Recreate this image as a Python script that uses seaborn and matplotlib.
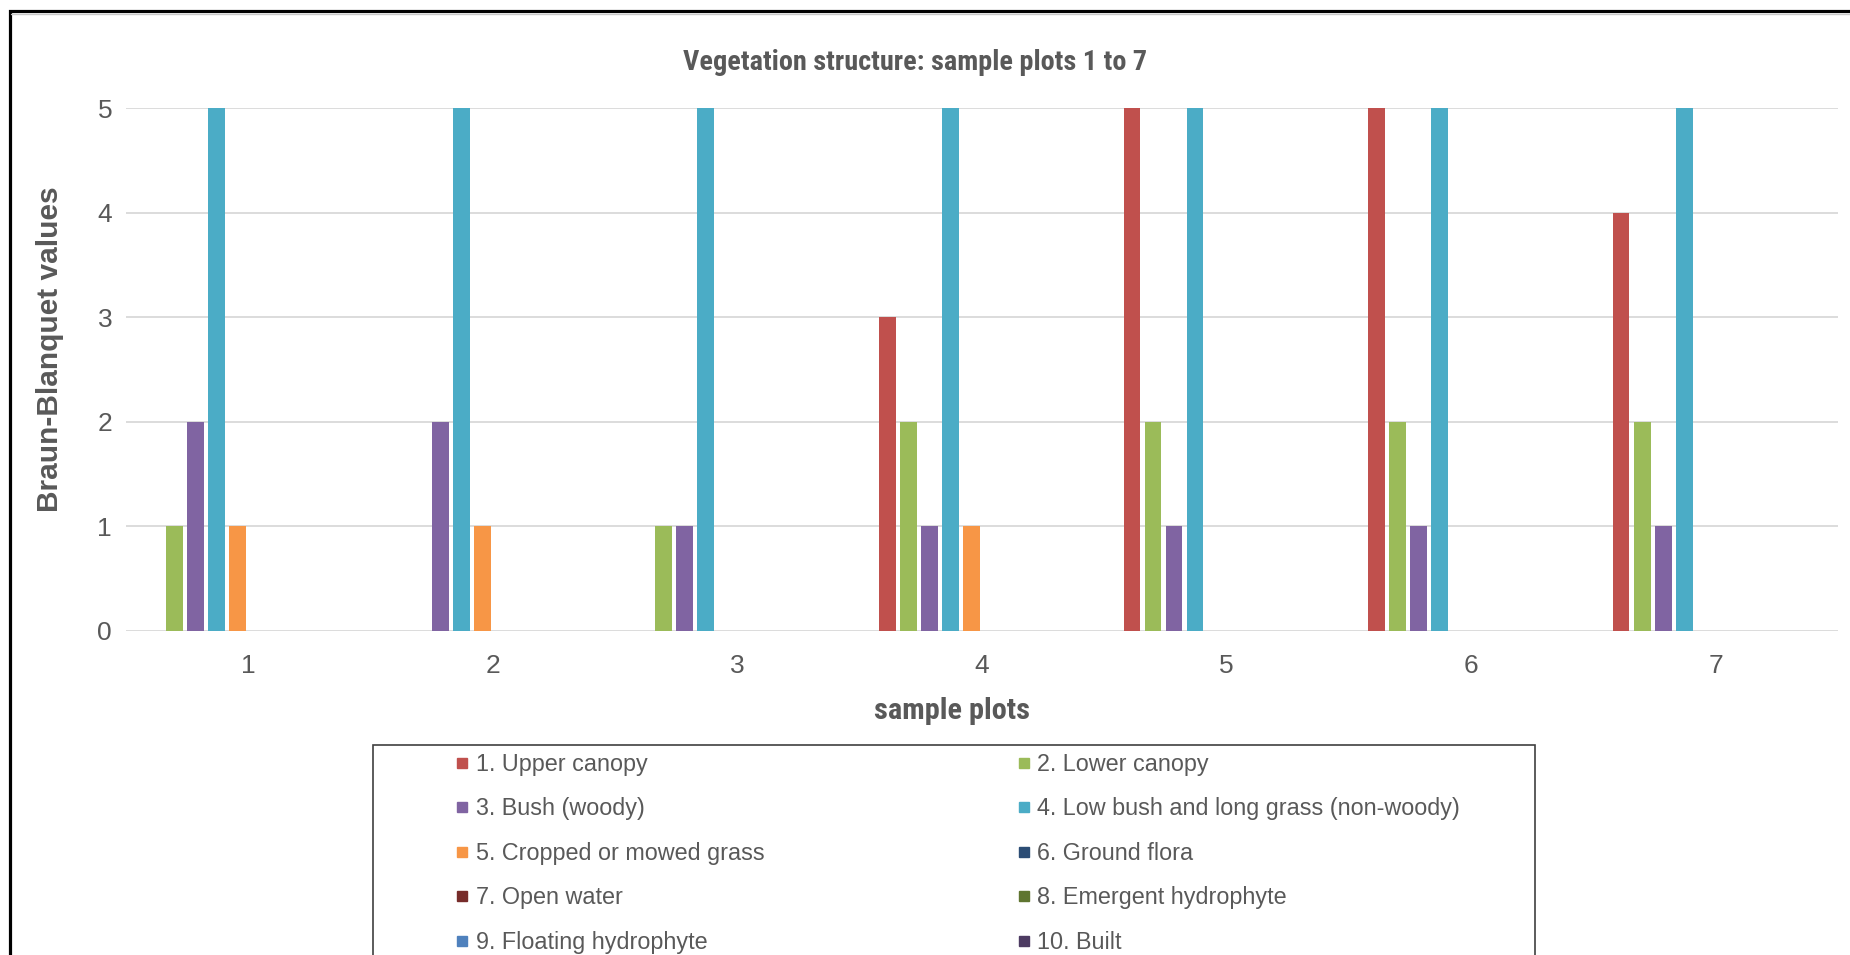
import numpy as np
import pandas as pd
import matplotlib
matplotlib.use("Agg")
import matplotlib.pyplot as plt
from matplotlib import font_manager as fm
from matplotlib.lines import Line2D
from matplotlib.patches import Rectangle
import seaborn as sns

# ---- data -------------------------------------------------------------
plots = ["1", "2", "3", "4", "5", "6", "7"]
classes = [
    "1. Upper canopy",
    "2. Lower canopy",
    "3. Bush (woody)",
    "4. Low bush and long grass (non-woody)",
    "5. Cropped or mowed grass",
    "6. Ground flora",
    "7. Open water",
    "8. Emergent hydrophyte",
    "9. Floating hydrophyte",
    "10. Built",
]
upper_canopy = [0, 0, 0, 3, 5, 5, 4]
lower_canopy = [1, 0, 1, 2, 2, 2, 2]
bush_woody = [2, 2, 1, 1, 1, 1, 1]
low_bush_long_grass = [5, 5, 5, 5, 5, 5, 5]
cropped_grass = [1, 1, 0, 1, 0, 0, 0]
ground_flora = [0, 0, 0, 0, 0, 0, 0]
open_water = [0, 0, 0, 0, 0, 0, 0]
emergent_hydrophyte = [0, 0, 0, 0, 0, 0, 0]
floating_hydrophyte = [0, 0, 0, 0, 0, 0, 0]
built = [0, 0, 0, 0, 0, 0, 0]
y_ticks = [0, 1, 2, 3, 4, 5]

colors = ["#C0504D", "#9BBB59", "#8064A2", "#4BACC6", "#F79646",
          "#2C4D75", "#772C2A", "#5F7530", "#4F81BD", "#4D3B62"]

series = [upper_canopy, lower_canopy, bush_woody, low_bush_long_grass,
          cropped_grass, ground_flora, open_water, emergent_hydrophyte,
          floating_hydrophyte, built]

df = pd.DataFrame(
    [(p, c, v) for c, vals in zip(classes, series) for p, v in zip(plots, vals)],
    columns=["plot", "class", "value"],
)

# ---- fonts ------------------------------------------------------------
sns.set_style("white")
names = {f.name for f in fm.fontManager.ttflist}
REG = "Liberation Sans" if "Liberation Sans" in names else "DejaVu Sans"


def condensed_font(weight):
    """Path of an installed narrow sans face of the given weight, if any."""
    prefs = ["Liberation Sans Narrow", "Roboto Condensed", "Open Sans Condensed",
             "Noto Sans Condensed", "DejaVu Sans Condensed"]
    for pref in prefs:
        for f in fm.fontManager.ttflist:
            heavy = (f.weight in ("bold", 700) or (isinstance(f.weight, int) and f.weight >= 600))
            if f.name == pref and heavy == (weight == "bold") and f.style == "normal":
                return f.fname
    for f in fm.fontManager.ttflist:
        heavy = (f.weight in ("bold", 700) or (isinstance(f.weight, int) and f.weight >= 600))
        if (f.stretch in ("condensed", "semi-condensed")
                and f.name in ("Liberation Sans", "Roboto", "Open Sans", "Noto Sans")
                and heavy == (weight == "bold") and f.style == "normal"):
            return f.fname
    return None


bold_narrow = condensed_font("bold")
plt.rcParams["font.family"] = [REG, "DejaVu Sans"]
TXT = "#595959"


def bold_props(size, narrow_scale=1.0):
    if bold_narrow:
        return fm.FontProperties(fname=bold_narrow, size=size * narrow_scale)
    return fm.FontProperties(family=[REG], weight="bold", size=size)


W, H = 1850, 955
fig = plt.figure(figsize=(W / 100, H / 100), dpi=100)
fig.patch.set_facecolor("white")


def fx(px):
    return px / W


def fy(py):
    return 1 - py / H


ax = fig.add_axes([fx(126), fy(631), fx(1838) - fx(126), (631 - 108) / H])

sns.barplot(
    data=df, x="plot", y="value", hue="class",
    order=plots, hue_order=classes, palette=colors,
    width=0.86, gap=0.2, saturation=1, errorbar=None,
    legend=False, ax=ax, linewidth=0,
)

ax.set_xlim(-0.5, len(plots) - 0.5)
ax.set_ylim(0, 5)
ax.set_yticks(y_ticks)
ax.yaxis.grid(True, color="#D9D9D9", linewidth=1.3)
ax.set_axisbelow(True)
for s in ax.spines.values():
    s.set_visible(False)
ax.set_xlabel("")
ax.set_ylabel("")
ax.tick_params(axis="both", length=0, labelsize=19, labelcolor=TXT)
ax.tick_params(axis="y", pad=10)
ax.tick_params(axis="x", pad=16.5)

# ---- titles -------------------------------------------------------------
fig.text(fx(915), fy(63), "Vegetation structure: sample plots 1 to 7",
         ha="center", va="center", color=TXT,
         fontproperties=bold_props(18.5, 1.1))
fig.text(fx(952), fy(711), "sample plots", ha="center", va="center",
         color=TXT, fontproperties=bold_props(19, 1.15))
fig.text(fx(50), fy(349), "Braun-Blanquet values", ha="center", va="center",
         rotation=90, fontsize=21.5, fontweight="bold", color=TXT)

# ---- legend (two columns, row-wise order) -----------------------------
handles = [Line2D([], [], ls="none", marker="s", markersize=6.5,
                  markerfacecolor=c, markeredgecolor=c) for c in colors]
order = [0, 2, 4, 6, 8, 1, 3, 5, 7, 9]
leg = fig.legend(
    [handles[i] for i in order], [classes[i] for i in order],
    ncol=2, loc="upper left", mode="expand",
    bbox_to_anchor=(fx(457), 0, fx(1460) - fx(457), fy(753)),
    frameon=False, borderpad=0, borderaxespad=0,
    handlelength=0.45, handletextpad=0.35, labelspacing=0.92,
    prop={"family": [REG], "size": 16.8},
)
for t in leg.get_texts():
    t.set_color(TXT)

fig.add_artist(Rectangle((fx(373), -0.05), fx(1535) - fx(373), fy(745) + 0.05,
                         transform=fig.transFigure, fill=False,
                         edgecolor="#404040", linewidth=1.2, clip_on=False))

# ---- outer chart frame ------------------------------------------------
fig.add_artist(Line2D([fx(9.5), fx(9.5), 1.02], [-0.02, fy(11), fy(11)],
                      transform=fig.transFigure, color="black", linewidth=2.3,
                      solid_joinstyle="miter"))
fig.add_artist(Line2D([fx(11), 1.02], [fy(14), fy(14)],
                      transform=fig.transFigure, color="#C8C8C8", linewidth=1.0))

fig.savefig("out.png", dpi=100)
